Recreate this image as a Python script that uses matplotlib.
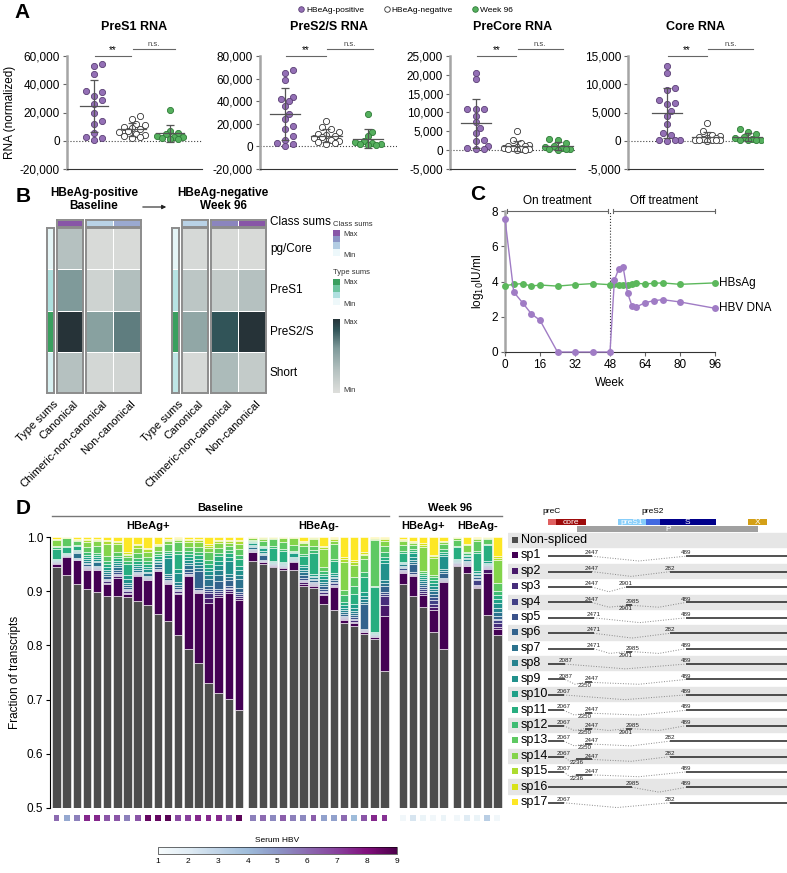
import numpy as np
import matplotlib.pyplot as plt
from matplotlib.colors import LinearSegmentedColormap, ListedColormap, Normalize
from matplotlib.lines import Line2D
from matplotlib.cm import ScalarMappable

plt.rcParams['font.family'] = ['Liberation Sans', 'DejaVu Sans']

# -----------------------------
# Panel A: normalized RNA
# -----------------------------
rna_titles = ["PreS1 RNA", "PreS2/S RNA", "PreCore RNA", "Core RNA"]
group_names = ["HBeAg-positive", "HBeAg-negative", "Week 96"]

pres1_pos = [54500, 53000, 47000, 35000, 34500, 32000, 29000, 26000, 20000, 14000, 12000, 5500, 3000, 2000, 500]
pres1_neg = [17500, 15500, 12000, 11000, 10000, 9000, 8000, 7000, 6000, 5000, 4000, 3500, 2500, 2000]
pres1_wk96 = [22000, 7000, 5500, 4500, 3500, 3000, 2500, 2000, 1500, 1000]

pres2_pos = [68000, 65000, 59000, 44000, 42000, 40000, 36000, 29000, 24000, 18000, 15000, 9000, 6000, 3000, 2500, 500]
pres2_neg = [22500, 17000, 15000, 13000, 11000, 10000, 9000, 8000, 7000, 6000, 5000, 4000, 3000, 2000]
pres2_wk96 = [28500, 13000, 9000, 5000, 4000, 3000, 2500, 2000, 1500, 1000]

precore_pos = [20600, 19000, 11000, 11000, 10800, 9200, 7600, 6000, 4500, 2700, 2500, 1000, 500, 300, 200]
precore_neg = [5200, 2600, 1800, 1500, 1200, 1000, 800, 600, 500, 400, 300, 200, 100, 50]
precore_wk96 = [3000, 2600, 1800, 1000, 800, 600, 400, 300, 200, 100]

core_pos = [13200, 12000, 9300, 9000, 7200, 6600, 6500, 5200, 4400, 3000, 1300, 1000, 200, 100, 50, 30]
core_neg = [3100, 1700, 1100, 800, 600, 500, 400, 300, 200, 150, 100, 80, 50, 20]
core_wk96 = [2000, 1600, 1200, 600, 400, 300, 200, 150, 100, 50]

rna_data = [(pres1_pos, pres1_neg, pres1_wk96), (pres2_pos, pres2_neg, pres2_wk96),
            (precore_pos, precore_neg, precore_wk96), (core_pos, core_neg, core_wk96)]
a_ylims = [(-20000, 60000), (-20000, 80000), (-5000, 25000), (-5000, 15000)]
a_ysteps = [20000, 20000, 5000, 5000]

# -----------------------------
# Panel B: heatmaps
# -----------------------------
b_rows = ["pg/Core", "PreS1", "PreS2/S", "Short"]
b_cols = ["Type sums", "Canonical", "Chimeric-non-canonical", "Non-canonical"]
heat_base = [[0.30, 0.05, 0.05], [0.60, 0.12, 0.32], [1.00, 0.55, 0.70], [0.30, 0.08, 0.10]]
heat_wk96 = [[0.06, 0.05, 0.05], [0.25, 0.20, 0.30], [0.50, 0.85, 1.00], [0.06, 0.35, 0.20]]
type_base = [0.05, 0.35, 1.00, 0.12]
type_wk96 = [0.05, 0.30, 1.00, 0.25]
class_base = [1.00, 0.30, 0.55]
class_wk96 = [0.30, 0.75, 1.00]

# -----------------------------
# Panel C: time course
# -----------------------------
weeks = [0, 4, 8, 12, 16, 24, 32, 40, 48, 50, 52, 54, 56, 58, 60, 64, 68, 72, 80, 96]
hbv_dna = [7.55, 3.4, 2.8, 2.17, 1.8, 0, 0, 0, 0, 4.06, 4.73, 4.82, 3.36, 2.63, 2.55, 2.8, 2.91, 2.97, 2.84, 2.48]
hbsag = [3.76, 3.84, 3.88, 3.74, 3.8, 3.74, 3.82, 3.88, 3.82, 3.86, 3.8, 3.8, 3.82, 3.88, 3.9, 3.86, 3.9, 3.92, 3.84, 3.92]

# -----------------------------
# Panel D: splice fractions
# -----------------------------
group_sizes = [19, 14, 5, 5]
nonspliced = [0.945, 0.929, 0.914, 0.904, 0.898, 0.891, 0.891, 0.889, 0.882, 0.874, 0.858, 0.845, 0.820, 0.793,
              0.767, 0.730, 0.712, 0.701, 0.680,
              0.956, 0.951, 0.944, 0.940, 0.939, 0.910, 0.905, 0.877, 0.865, 0.842, 0.836, 0.821, 0.811, 0.752,
              0.914, 0.891, 0.870, 0.825, 0.793,
              0.946, 0.934, 0.906, 0.856, 0.819]
sp1_frac = [0.006, 0.035, 0.043, 0.036, 0.041, 0.023, 0.034, 0.006, 0.046, 0.046, 0.079, 0.068, 0.075, 0.135,
            0.129, 0.149, 0.178, 0.195, 0.203,
            0.016, 0.003, 0.002, 0.003, 0.015, 0.004, 0.004, 0.016, 0.043, 0.004, 0.005, 0.003, 0.004, 0.103,
            0.020, 0.037, 0.023, 0.040, 0.124,
            0.002, 0.012, 0.002, 0.078, 0.012]
# relative amounts of sp2..sp17 in the remaining spliced fraction
sp_rest = [
    [1, 1, 1, 1, 2, 1, 1, 2, 2, 26, 4, 4, 15, 2, 1, 5],
    [1, 1, 1, 1, 1, 1, 1, 1, 2, 20, 3, 22, 1, 1, 1, 1],
    [1, 1, 1, 1, 3, 15, 2, 3, 3, 14, 4, 10, 3, 1, 2, 7],
    [1, 2, 2, 2, 4, 4, 3, 4, 5, 5, 6, 10, 12, 3, 2, 5],
    [1, 1, 2, 2, 3, 8, 3, 4, 4, 4, 5, 15, 10, 2, 2, 4],
    [2, 3, 3, 3, 5, 5, 5, 5, 6, 6, 8, 10, 28, 6, 3, 6],
    [4, 3, 3, 3, 6, 6, 5, 6, 5, 6, 6, 10, 18, 5, 3, 10],
    [3, 3, 3, 3, 5, 5, 6, 8, 10, 28, 8, 8, 6, 3, 3, 38],
    [2, 2, 2, 2, 3, 4, 4, 5, 5, 8, 8, 14, 12, 6, 3, 18],
    [2, 2, 2, 3, 4, 6, 5, 6, 6, 8, 8, 12, 14, 6, 4, 30],
    [2, 2, 2, 2, 5, 10, 6, 6, 6, 8, 8, 10, 16, 5, 4, 22],
    [3, 3, 3, 3, 4, 5, 6, 40, 8, 6, 6, 18, 6, 4, 3, 4],
    [3, 3, 3, 3, 5, 5, 6, 22, 8, 36, 8, 20, 4, 3, 2, 3],
    [2, 2, 2, 3, 8, 10, 6, 8, 6, 8, 8, 10, 12, 4, 3, 5],
    [2, 3, 3, 4, 35, 6, 5, 8, 6, 8, 6, 10, 10, 4, 2, 5],
    [8, 10, 4, 4, 6, 12, 8, 8, 6, 8, 8, 14, 8, 4, 3, 14],
    [3, 3, 4, 5, 14, 12, 8, 10, 8, 8, 6, 10, 8, 4, 3, 5],
    [5, 4, 3, 4, 12, 6, 6, 28, 8, 10, 6, 8, 6, 4, 3, 6],
    [4, 4, 4, 5, 8, 18, 8, 10, 8, 14, 8, 12, 10, 5, 3, 6],
    [1, 1, 2, 2, 2, 3, 2, 4, 3, 3, 2, 2, 4, 1, 1, 1],
    [1, 1, 1, 2, 12, 3, 3, 6, 6, 4, 3, 12, 6, 2, 1, 1],
    [1, 1, 1, 1, 1, 1, 1, 1, 2, 28, 3, 14, 2, 1, 1, 1],
    [1, 1, 1, 1, 1, 1, 2, 2, 3, 22, 3, 14, 8, 1, 1, 1],
    [1, 1, 1, 1, 1, 1, 2, 3, 8, 3, 2, 12, 14, 1, 1, 1],
    [3, 3, 3, 4, 6, 6, 5, 6, 6, 18, 6, 18, 6, 3, 2, 8],
    [2, 2, 3, 3, 3, 3, 3, 3, 4, 45, 6, 8, 14, 2, 2, 1],
    [3, 3, 4, 4, 6, 5, 5, 6, 6, 6, 6, 10, 40, 4, 3, 20],
    [2, 2, 3, 3, 4, 3, 3, 4, 4, 24, 4, 30, 6, 3, 2, 2],
    [2, 2, 2, 3, 3, 4, 4, 5, 5, 6, 14, 10, 55, 6, 3, 40],
    [3, 3, 3, 3, 4, 4, 5, 6, 8, 18, 16, 18, 25, 6, 3, 46],
    [1, 1, 2, 2, 42, 4, 4, 5, 8, 25, 8, 22, 6, 3, 2, 26],
    [1, 1, 1, 1, 1, 1, 1, 1, 2, 88, 2, 90, 2, 1, 1, 1],
    [22, 21, 3, 4, 14, 6, 6, 38, 6, 6, 10, 14, 10, 4, 2, 3],
    [2, 2, 3, 3, 3, 3, 3, 3, 3, 20, 4, 14, 10, 2, 2, 5],
    [2, 2, 2, 3, 20, 4, 6, 8, 8, 6, 4, 10, 6, 2, 2, 10],
    [4, 4, 4, 4, 4, 4, 4, 4, 4, 4, 4, 4, 50, 4, 3, 13],
    [6, 8, 8, 6, 6, 6, 6, 6, 6, 6, 6, 6, 35, 4, 3, 38],
    [2, 2, 3, 3, 10, 4, 5, 30, 5, 5, 5, 12, 4, 2, 2, 8],
    [1, 1, 2, 1, 1, 1, 1, 2, 2, 24, 3, 12, 3, 1, 1, 1],
    [1, 1, 2, 2, 2, 3, 3, 3, 3, 3, 3, 3, 13, 2, 1, 14],
    [2, 2, 10, 3, 3, 3, 3, 3, 4, 38, 4, 20, 4, 2, 1, 2],
    [10, 2, 2, 2, 2, 2, 2, 3, 3, 40, 3, 12, 2, 1, 1, 1],
    [4, 6, 6, 3, 6, 6, 8, 10, 8, 8, 8, 14, 45, 4, 3, 37],
]
serum_hbv = [6.0, 4.5, 5.5, 7.5, 7.5, 6.5, 6.5, 5.5, 6.5, 8.5, 8.5, 8.8, 6.8, 7.0, 7.5, 7.5, 7.5, 6.5, 8.7,
             5.5, 6.0, 5.3, 6.3, 5.5, 5.3, 6.3, 4.7, 4.7, 6.0, 4.0, 6.5, 7.5, 7.3,
             1.3, 2.3, 1.5, 1.3, 1.5,
             1.3, 2.0, 1.5, 3.2, 1.3]

sp_names = ["sp%d" % i for i in range(1, 18)]
sp_junctions = [
    [(2447, 489)], [(2447, 282)], [(2447, 2901)], [(2447, 2901), (2985, 489)],
    [(2471, 489)], [(2471, 282)], [(2471, 2901), (2985, 489)], [(2087, 489)],
    [(2087, 2350), (2447, 489)], [(2067, 489)], [(2067, 2350), (2447, 489)],
    [(2067, 2350), (2447, 2901), (2985, 489)], [(2067, 2350), (2447, 282)],
    [(2067, 2236), (2447, 282)], [(2067, 2236), (2447, 489)], [(2985, 489)], [(2067, 282)],
]
gene_names = ["preC", "core", "preS1", "preS2", "S", "X", "P"]
gene_start = [1860, 1960, 2790, 3170, 3355, 4540, 2250]
gene_end = [1960, 2370, 3170, 3355, 4110, 4790, 4680]
gene_colors = ['#e06060', '#9e0b0b', '#87cefa', '#4169e1', '#00008b', '#d4a017', '#a0a0a0']

# -----------------------------
W, H = 787, 873
fig = plt.figure(figsize=(W / 100, H / 100), dpi=100)


def add_ax(x0, y0, x1, y1):
    return fig.add_axes([x0 / W, 1 - y1 / H, (x1 - x0) / W, (y1 - y0) / H])


def ftext(x, y, s, **kw):
    fig.text(x / W, 1 - y / H, s, **kw)


def swarm(vals, ypx, xpx, d=6.0, step=4.2, kmax=3):
    # simple beeswarm: nearest free slot, else the least crowded one
    vals = np.asarray(vals, float)
    offs = np.zeros(len(vals))
    placed = []
    cands = [0]
    for k in range(1, kmax + 1):
        cands += [k, -k]
    for i in np.argsort(vals):
        y = vals[i] * ypx
        best, best_d = 0.0, -1
        for k in cands:
            xo = k * step
            dmin = min([np.hypot(xo - px, y - py) for px, py in placed] + [99])
            if dmin >= d:
                best = xo
                break
            if dmin > best_d:
                best, best_d = xo, dmin
        placed.append((best, y))
        offs[i] = best / xpx
    return offs


for lab, x, y in [("A", 22, 13), ("B", 23, 196), ("C", 478, 194), ("D", 23, 509)]:
    ftext(x, y, lab, fontsize=15, fontweight='bold', ha='center', va='center')

# ---- Panel A
a_boxes = [(67, 202), (260, 397), (450, 575), (628, 763)]
a_xlims = [(-0.71, 2.84), (-0.6, 2.7), (-0.63, 2.42), (-0.96, 2.37)]
fills = ['#9470b6', 'white', '#55b05e']
edges = ['#5b3f75', '#333333', '#2e7a37']
for k in range(4):
    x0, x1 = a_boxes[k]
    ax = add_ax(x0, 56, x1, 169)
    ax.set_xlim(*a_xlims[k])
    ax.set_ylim(*a_ylims[k])
    ypx = 113 / (a_ylims[k][1] - a_ylims[k][0])
    xpx = (x1 - x0) / (a_xlims[k][1] - a_xlims[k][0])
    ax.axhline(0, ls=':', color='#444', lw=0.8, zorder=1)
    for g, vals in enumerate(rna_data[k]):
        offs = swarm(vals, ypx, xpx)
        ax.scatter(g + offs, vals, s=20, c=fills[g], edgecolors=edges[g], linewidths=0.6, zorder=3)
        m, sd = np.mean(vals), np.std(vals, ddof=1)
        ax.errorbar(g, m, yerr=sd, fmt='none', ecolor='#555', elinewidth=0.9, capsize=3, capthick=0.9, zorder=4)
        ax.plot([g - 0.37, g + 0.37], [m, m], color='#555', lw=0.9, zorder=4)
    yt = np.arange(a_ylims[k][0], a_ylims[k][1] + 1, a_ysteps[k])
    ax.set_yticks(yt)
    ax.set_yticklabels([f"{v:,.0f}" for v in yt], fontsize=8.5)
    ax.set_xticks([])
    ax.tick_params(axis='y', length=3, width=0.8, color='#666', pad=2)
    for s in ['top', 'right']:
        ax.spines[s].set_visible(False)
    ax.spines['left'].set_color('#a5a5a5')
    ax.spines['left'].set_linewidth(1.8)
    ax.spines['bottom'].set_color('#333')
    ax.spines['bottom'].set_linewidth(0.8)
    tr = ax.get_xaxis_transform()
    ax.plot([0.02, 0.98], [1.0, 1.0], color='#666', lw=0.8, transform=tr, clip_on=False)
    ax.text(0.5, 1.005, "**", fontsize=7, ha='center', va='bottom', transform=tr)
    ax.plot([1.02, 2.12], [1.062, 1.062], color='#666', lw=0.8, transform=tr, clip_on=False)
    ax.text(1.57, 1.07, "n.s.", fontsize=5.5, ha='center', va='bottom', color='#444', transform=tr)
    ax.text(0.5, 1.257, rna_titles[k], fontsize=9, fontweight='bold', ha='center', va='center',
            transform=ax.transAxes)
    if k == 0:
        ax.set_ylabel("RNA (normalized)", fontsize=8.5, labelpad=3)

handles = [Line2D([], [], marker='o', ls='', mfc=fills[g], mec=edges[g], mew=0.6, ms=4) for g in range(3)]
fig.legend(handles, group_names, loc='center', bbox_to_anchor=(405 / W, 1 - 10 / H), ncol=3, frameon=False,
           fontsize=6, handletextpad=0.1, columnspacing=2.2, handlelength=1.0)

# ---- Panel B
heat_cmap = LinearSegmentedColormap.from_list(
    'heat', [(0, '#dedfdc'), (0.3, '#b5c1c0'), (0.6, '#7f9a9a'), (0.85, '#315458'), (1.0, '#263338')])
type_cols = ['#eef8fa', '#b0e0e0', '#6ec4a0', '#3a9f5f']
class_cols = ['#edf8fb', '#b3cde3', '#8c96c6', '#8856a7']
type_cmap = LinearSegmentedColormap.from_list('type', type_cols)
class_cmap = LinearSegmentedColormap.from_list('class', class_cols)


def heat_block(x0, x1, y0, y1, vals, cmap):
    ax = add_ax(x0, y0, x1, y1)
    ax.pcolormesh(np.atleast_2d(vals), cmap=cmap, vmin=0, vmax=1, edgecolors='white', linewidth=0.5)
    ax.invert_yaxis()
    ax.set_xticks([])
    ax.set_yticks([])
    for s in ax.spines.values():
        s.set_color('#8c8c8c')
        s.set_linewidth(1.4)
    return ax


for (xt, xc, xn), heat, tsum, csum in [((47, 57, 86), heat_base, type_base, class_base),
                                        ((172, 182, 211), heat_wk96, type_wk96, class_wk96)]:
    heat = np.array(heat)
    heat_block(xt, xt + 6.5, 228, 393, np.array(tsum)[:, None], type_cmap)
    heat_block(xc, xc + 25.5, 228, 393, heat[:, :1], heat_cmap)
    heat_block(xn, xn + 54.5, 228, 393, heat[:, 1:], heat_cmap)
    heat_block(xc, xc + 25.5, 220, 227, [csum[0]], class_cmap)
    heat_block(xn, xn + 54.5, 220, 227, [csum[1:]], class_cmap)
    centers = [xt + 3.2, xc + 12.7, xn + 13.6, xn + 40.9]
    for cx, lab in zip(centers, b_cols):
        ftext(cx + 3, 399, lab, fontsize=8, rotation=45, ha='right', va='top', rotation_mode='anchor')

for lab, y in zip(["Class sums"] + b_rows, [222, 249, 290, 332, 373]):
    ftext(270, y, lab, fontsize=8.5, va='center')

ftext(94, 193, "HBeAg-positive", fontsize=8.5, fontweight='bold', ha='center', va='center')
ftext(94, 206, "Baseline", fontsize=8.5, fontweight='bold', ha='center', va='center')
ftext(223, 193, "HBeAg-negative", fontsize=8.5, fontweight='bold', ha='center', va='center')
ftext(223, 206, "Week 96", fontsize=8.5, fontweight='bold', ha='center', va='center')
fig.add_artist(plt.Annotation('', xy=(169 / W, 1 - 207 / H), xytext=(140 / W, 1 - 207 / H),
                              xycoords='figure fraction', textcoords='figure fraction',
                              arrowprops=dict(arrowstyle='-|>', color='#222', lw=0.8, mutation_scale=6)))

for title, cols, y0 in [("Class sums", class_cols, 224), ("Type sums", type_cols, 273)]:
    ftext(333, y0, title, fontsize=5.5, va='center', color='#333')
    lax = add_ax(333, y0 + 6, 340, y0 + 32)
    lax.imshow(np.arange(4)[::-1][:, None], cmap=ListedColormap(cols), aspect='auto')
    lax.axis('off')
    ftext(343, y0 + 10, "Max", fontsize=5.5, va='center', color='#333')
    ftext(343, y0 + 31, "Min", fontsize=5.5, va='center', color='#333')
gax = add_ax(333, 319, 340, 393)
gax.imshow(np.linspace(1, 0, 100)[:, None], cmap=heat_cmap, aspect='auto')
gax.axis('off')
ftext(343, 322, "Max", fontsize=5.5, va='center', color='#333')
ftext(343, 391, "Min", fontsize=5.5, va='center', color='#333')

# ---- Panel C
axc = add_ax(505, 211, 715, 352)
axc.plot(weeks, hbsag, color='#5cb85c', lw=1, marker='o', ms=5, mec='none', clip_on=False, zorder=3)
axc.plot(weeks, hbv_dna, color='#a07cc5', lw=1, marker='o', ms=5, mec='none', clip_on=False, zorder=4)
axc.plot([48, 48], [0, 8], ls=':', color='#333', lw=0.8)
axc.set_xlim(0, 96)
axc.set_ylim(0, 8)
axc.set_xticks(range(0, 97, 16))
axc.set_yticks(range(0, 9, 2))
axc.tick_params(labelsize=8.5, length=3, width=0.8, color='#666', pad=2)
for s in ['top', 'right']:
    axc.spines[s].set_visible(False)
axc.spines['left'].set_color('#a5a5a5')
axc.spines['left'].set_linewidth(1.8)
axc.spines['bottom'].set_color('#333')
axc.spines['bottom'].set_linewidth(0.8)
axc.set_xlabel("Week", fontsize=8.5, labelpad=4)
axc.set_ylabel("log$_{10}$IU/ml", fontsize=8.5, labelpad=4)
for a, b, lab in [(0.8, 47.2, "On treatment"), (49.2, 96, "Off treatment")]:
    axc.plot([a, b], [8, 8], color='#666', lw=0.8, clip_on=False)
    axc.plot([a, a], [7.88, 8.12], color='#666', lw=0.8, clip_on=False)
    axc.plot([b, b], [7.88, 8.12], color='#666', lw=0.8, clip_on=False)
    axc.text((a + b) / 2, 8.2, lab, fontsize=8.5, ha='center', va='bottom')
axc.text(98, hbsag[-1], "HBsAg", fontsize=8.5, va='center')
axc.text(98, hbv_dna[-1], "HBV DNA", fontsize=8.5, va='center')

# ---- Panel D bars
gaps = [0, 0.36, 0.82, 0.32]
xpos = []
start = 0.0
for g, n in enumerate(group_sizes):
    start += gaps[g]
    xpos.extend(start + np.arange(n))
    start = xpos[-1] + 1
xpos = np.array(xpos)

ns = np.array(nonspliced)
s1 = np.array(sp1_frac)
rest = np.array(sp_rest, float)
rest = rest / rest.sum(axis=1, keepdims=True) * (1 - ns - s1)[:, None]
fracs = np.column_stack([ns, s1, rest])
sp_colors = [plt.cm.viridis(i / 16) for i in range(17)]
colors = ['#4d4d4d'] + sp_colors

axd = add_ax(50, 537, 503, 808)
bottom = np.zeros(len(xpos))
for j in range(fracs.shape[1]):
    axd.bar(xpos, fracs[:, j], bottom=bottom, width=0.84, color=colors[j], edgecolor='white', linewidth=0.4)
    bottom += fracs[:, j]
axd.set_xlim(-0.64, xpos[-1] + 0.55)
axd.set_ylim(0.5, 1.0)
axd.set_yticks(np.arange(0.5, 1.01, 0.1))
axd.set_yticklabels([f"{v:.1f}" for v in np.arange(0.5, 1.01, 0.1)])
axd.set_xticks([])
axd.tick_params(labelsize=8.5, length=3, width=0.8, pad=2)
for s in ['top', 'right', 'bottom']:
    axd.spines[s].set_visible(False)
axd.spines['left'].set_linewidth(0.8)
axd.set_ylabel("Fraction of transcripts", fontsize=8.5, labelpad=4)

tr = axd.get_xaxis_transform()
bounds = np.cumsum([0] + group_sizes)
grp = [xpos[bounds[i]:bounds[i + 1]] for i in range(4)]
for lo, hi, lab in [(grp[0][0], grp[1][-1], "Baseline"), (grp[2][0], grp[3][-1], "Week 96")]:
    axd.plot([lo - 0.42, hi + 0.42], [1.077, 1.077], color='#777', lw=1, transform=tr, clip_on=False)
    axd.text((lo + hi) / 2, 1.107, lab, fontsize=8, fontweight='bold', ha='center', va='center', transform=tr)
for gx, lab in zip(grp, ["HBeAg+", "HBeAg-", "HBeAg+", "HBeAg-"]):
    axd.text(gx.mean(), 1.04, lab, fontsize=8, fontweight='bold', ha='center', va='center', transform=tr)

norm = Normalize(1, 9)
axd.scatter(xpos, np.full(len(xpos), -0.037), marker='s', s=18, c=serum_hbv, cmap='BuPu', norm=norm,
            transform=tr, clip_on=False, linewidths=0)
cax = add_ax(158, 847, 397, 854)
cb = fig.colorbar(ScalarMappable(norm=norm, cmap='BuPu'), cax=cax, orientation='horizontal')
cb.set_ticks(range(1, 10))
cax.tick_params(labelsize=6, length=0, pad=3)
cb.outline.set_linewidth(0.4)
ftext(277, 840, "Serum HBV", fontsize=6, ha='center', va='center')

# ---- Panel D splice map
GLEN = 3215


def unwrap(p):
    return p + GLEN if p < 1800 else p


axs = add_ax(508, 501.5, 787, 809.7)
axs.set_xlim(1319.5, 5064)
axs.set_ylim(17.5, -2.5)
axs.axis('off')
tx_start, tx_end = 1860, 5064
rows = ["Non-spliced"] + sp_names
rtr = axs.get_yaxis_transform()
for r, lab in enumerate(rows):
    if r % 2 == 0:
        axs.axhspan(r - 0.46, r + 0.46, color='#e6e6e6', zorder=0)
    axs.scatter([0.025], [r], marker='s', s=24, color=colors[r], transform=rtr,
                clip_on=False, zorder=3, linewidths=0)
    axs.text(0.047, r, lab, fontsize=9, va='center', transform=rtr)

for r, junc in enumerate(sp_junctions, start=1):
    pts = [tx_start]
    for d, a in junc:
        pts += [d, unwrap(a)]
    pts.append(tx_end)
    exons = list(zip(pts[0::2], pts[1::2]))
    n = len(exons)
    ys = [r + 0.05 if i in (0, n - 1) else r + 0.24 for i in range(n)]
    for i, (s, e) in enumerate(exons):
        axs.plot([s, e], [ys[i], ys[i]], color='#222', lw=1.1, solid_capstyle='butt', zorder=2)
    for i, (d, a) in enumerate(junc):
        ua = unwrap(a)
        axs.plot([d, (d + ua) / 2, ua], [ys[i], r + 0.36, ys[i + 1]], color='#888', lw=0.7, ls=':', zorder=1)
        axs.text(d, ys[i] - 0.06, str(d), fontsize=4.5, ha='center', va='bottom', color='#222')
        if i + 1 == n - 1:
            axs.text(ua, ys[i + 1] - 0.06, str(a), fontsize=4.5, ha='center', va='bottom', color='#222')
        else:
            axs.text(ua, ys[i + 1] + 0.06, str(a), fontsize=4.5, ha='center', va='top', color='#222')

for name, gs, ge, gc in zip(gene_names, gene_start, gene_end, gene_colors):
    yc = -0.72 if name == "P" else -1.17
    axs.barh(yc, ge - gs, left=gs, height=0.4, color=gc, zorder=2)
    if name in ("preC", "preS2"):
        axs.text((gs + ge) / 2 if name == "preC" else gs + 90, -1.62, name, fontsize=6, ha='center', va='bottom')
    else:
        axs.text((gs + ge) / 2, yc + 0.03, name, fontsize=6, ha='center', va='center', color='white')

fig.savefig("out.png", dpi=100)
